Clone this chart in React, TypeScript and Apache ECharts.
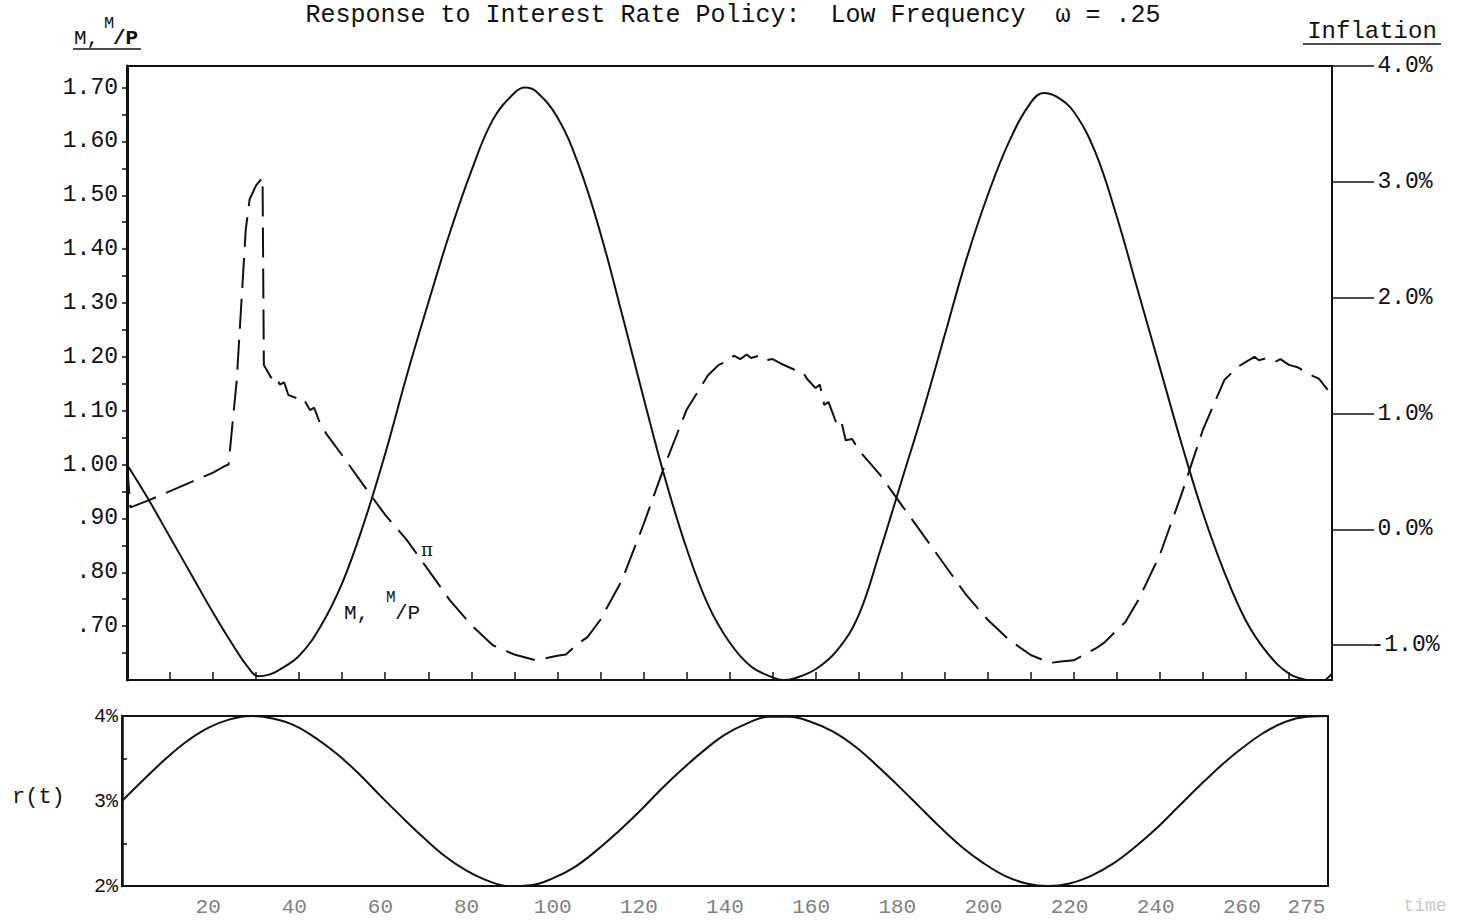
import React, { useEffect, useRef } from "react";
import * as echarts from "echarts";

// ---------- data ----------
const leftTicks = [0.7, 0.8, 0.9, 1.0, 1.1, 1.2, 1.3, 1.4, 1.5, 1.6, 1.7];
const leftMinor = [0.65, 0.7, 0.75, 0.8, 0.85, 0.9, 0.95, 1.0, 1.05, 1.1, 1.15, 1.2, 1.25, 1.3, 1.35, 1.4, 1.45, 1.5, 1.55, 1.6, 1.65, 1.7];
const inflationTicks = [-1, 0, 1, 2, 3, 4];
const rateTicks = [2, 3, 4];
const rateMinor = [2.5, 3.5];
const topXTicks = [10, 20, 30, 40, 50, 60, 70, 80, 90, 100, 110, 120, 130, 140, 150, 160, 170, 180, 190, 200, 210, 220, 230, 240, 250, 260, 270];
const timeLabels = [20, 40, 60, 80, 100, 120, 140, 160, 180, 200, 220, 240, 260, 275];

// M, M/P (left axis)
const mTime = [0, 5, 10, 15, 20, 25, 28, 30.5, 33, 35, 40, 45, 50, 55, 60, 65, 70, 75, 80, 85, 90, 92.5, 95, 100, 105, 110, 115, 120, 125, 130, 135, 140, 145, 150, 152.5, 155, 160, 165, 170, 175, 180, 185, 190, 195, 200, 205, 210, 213, 216, 220, 225, 230, 235, 240, 245, 250, 255, 260, 265, 270, 275, 277, 280];
const mValues = [1.0, 0.935, 0.865, 0.795, 0.725, 0.66, 0.625, 0.607, 0.61, 0.617, 0.645, 0.7, 0.78, 0.89, 1.02, 1.165, 1.3, 1.43, 1.545, 1.64, 1.69, 1.7, 1.693, 1.645, 1.555, 1.43, 1.28, 1.125, 0.975, 0.845, 0.74, 0.67, 0.625, 0.605, 0.6, 0.603, 0.62, 0.655, 0.72, 0.84, 0.97, 1.1, 1.24, 1.38, 1.5, 1.6, 1.672, 1.69, 1.683, 1.655, 1.58, 1.46, 1.32, 1.18, 1.04, 0.91, 0.8, 0.71, 0.65, 0.612, 0.598, 0.596, 0.612];

// inflation pi (right axis, %)
const piTime = [0, 0.8, 5, 10, 15, 20, 22.8, 23.6, 25.5, 27.6, 28.5, 30, 31.5, 31.8, 33.5, 34.5, 35.5, 36.5, 37.5, 39, 40, 41, 42.5, 43.5, 45, 46.5, 50, 55, 60, 65, 70, 75, 80, 85, 90, 95, 100, 102, 105, 107, 110, 115, 120, 125, 130, 135, 137.5, 140, 141, 142.5, 144, 145, 147, 148.5, 150, 152, 155, 157, 158, 160, 161, 162, 163, 165, 166, 167, 168.5, 170, 175, 180, 185, 190, 195, 200, 205, 210, 213, 215, 217, 220, 222, 225, 227, 230, 232, 235, 240, 245, 250, 255, 258, 260, 262, 263, 265, 267, 268, 270, 272, 275, 277, 279];
const piValues = [0.565, 0.19, 0.25, 0.33, 0.41, 0.49, 0.548, 0.56, 1.29, 2.59, 2.85, 2.97, 3.035, 1.42, 1.31, 1.33, 1.25, 1.27, 1.16, 1.14, 1.12, 1.13, 1.03, 1.05, 0.9, 0.816, 0.64, 0.38, 0.125, -0.09, -0.35, -0.61, -0.825, -1.0, -1.08, -1.13, -1.09, -1.08, -0.98, -0.93, -0.78, -0.44, 0.04, 0.557, 1.03, 1.33, 1.42, 1.46, 1.5, 1.47, 1.51, 1.48, 1.5, 1.46, 1.47, 1.43, 1.38, 1.36, 1.3, 1.22, 1.25, 1.075, 1.1, 0.9, 0.93, 0.77, 0.78, 0.686, 0.47, 0.21, -0.048, -0.307, -0.566, -0.78, -0.955, -1.084, -1.13, -1.15, -1.14, -1.13, -1.09, -1.03, -0.98, -0.87, -0.8, -0.61, -0.22, 0.3, 0.86, 1.29, 1.4, 1.446, 1.49, 1.46, 1.48, 1.45, 1.47, 1.42, 1.4, 1.334, 1.3, 1.204];

// r(t) (%)
const rTime = [0, 5, 10, 15, 20, 25, 30, 35, 40, 45, 50, 55, 60, 65, 70, 75, 80, 85, 90, 95, 100, 105, 110, 115, 120, 125, 130, 135, 140, 145, 150, 155, 160, 165, 170, 175, 180, 185, 190, 195, 200, 205, 210, 215, 220, 225, 230, 235, 240, 245, 250, 255, 260, 265, 270, 275, 280];
const rValues = [3.0, 3.25, 3.49, 3.7, 3.86, 3.96, 4.0, 3.97, 3.89, 3.74, 3.55, 3.32, 3.06, 2.81, 2.57, 2.35, 2.18, 2.06, 2.0, 2.01, 2.09, 2.22, 2.41, 2.63, 2.87, 3.13, 3.37, 3.59, 3.78, 3.91, 3.99, 3.99, 3.93, 3.82, 3.65, 3.43, 3.19, 2.94, 2.69, 2.46, 2.27, 2.12, 2.03, 2.0, 2.03, 2.12, 2.26, 2.45, 2.67, 2.92, 3.17, 3.41, 3.62, 3.8, 3.93, 3.99, 4.0];

// ---------- styling ----------
const MONO = "'Liberation Mono', 'DejaVu Sans Mono', monospace";
const INK = "#111";

const zip = (a: number[], b: number[]) => a.map((x, i) => [x, b[i]]);

function buildOption(): any {
  return {
    animation: false,
    backgroundColor: "#fff",
    grid: [
      { left: 127, right: 130, top: 66, height: 614, show: true, borderColor: INK, borderWidth: 2 },
      { left: 122, right: 134, top: 716, height: 170, show: true, borderColor: INK, borderWidth: 2 },
    ],
    xAxis: [
      {
        gridIndex: 0, type: "value", min: 0, max: 280, position: "bottom",
        axisLine: { show: true, onZero: false, lineStyle: { color: INK, width: 2 } },
        axisTick: { show: true, inside: true, length: 8, customValues: topXTicks, lineStyle: { color: INK, width: 1.5 } },
        axisLabel: { show: false },
        splitLine: { show: false },
      },
      {
        gridIndex: 1, type: "value", min: 0, max: 280, position: "bottom",
        axisLine: { show: true, onZero: false, lineStyle: { color: INK, width: 2 } },
        axisTick: { show: false },
        axisLabel: {
          show: true, customValues: timeLabels, margin: 11,
          color: "#808080", fontFamily: MONO, fontSize: 21,
        },
        splitLine: { show: false },
      },
    ],
    yAxis: [
      {
        gridIndex: 0, type: "value", min: 0.6, max: 1.74, position: "left",
        axisLine: { show: true, onZero: false, lineStyle: { color: INK, width: 3 } },
        axisTick: { show: true, inside: false, length: 5, customValues: leftMinor, lineStyle: { color: INK, width: 1.5 } },
        axisLabel: {
          show: true, customValues: leftTicks, margin: 9,
          color: INK, fontFamily: MONO, fontSize: 23,
          formatter: (v: number) => (v >= 1 ? v.toFixed(2) : v.toFixed(2).slice(1)),
        },
        splitLine: { show: false },
      },
      {
        gridIndex: 0, type: "value", min: -1.3, max: 4.0, position: "right",
        axisLine: { show: true, onZero: false, lineStyle: { color: INK, width: 2 } },
        axisTick: { show: true, inside: false, length: 42, customValues: inflationTicks, lineStyle: { color: INK, width: 1.5 } },
        axisLabel: {
          show: true, customValues: inflationTicks, margin: 73, align: "center",
          color: INK, fontFamily: MONO, fontSize: 23,
          formatter: (v: number) => v.toFixed(1) + "%",
        },
        splitLine: { show: false },
      },
      {
        gridIndex: 1, type: "value", min: 2, max: 4, position: "left",
        axisLine: { show: true, onZero: false, lineStyle: { color: INK, width: 2.5 } },
        axisTick: { show: true, inside: true, length: 5, customValues: rateMinor, lineStyle: { color: INK, width: 1.5 } },
        axisLabel: {
          show: true, customValues: rateTicks, margin: 4,
          color: INK, fontFamily: MONO, fontSize: 20,
          formatter: (v: number) => v + "%",
        },
        splitLine: { show: false },
      },
    ],
    series: [
      {
        name: "M, M/P", type: "line", xAxisIndex: 0, yAxisIndex: 0,
        data: zip(mTime, mValues), smooth: 0.4, showSymbol: false, symbol: "none",
        lineStyle: { color: INK, width: 2 }, clip: true,
      },
      {
        name: "pi", type: "line", xAxisIndex: 0, yAxisIndex: 1,
        data: zip(piTime, piValues), smooth: false, showSymbol: false, symbol: "none",
        lineStyle: { color: INK, width: 2, type: [30, 11] }, clip: true,
      },
      {
        name: "r(t)", type: "line", xAxisIndex: 1, yAxisIndex: 2,
        data: zip(rTime, rValues), smooth: 0.4, showSymbol: false, symbol: "none",
        lineStyle: { color: INK, width: 2 }, clip: true,
      },
    ],
    graphic: [
      { type: "text", x: 733, y: 15, style: { text: "Response to Interest Rate Policy:  Low Frequency  \u03c9 = .25", font: `25px ${MONO}`, fill: INK, align: "center", verticalAlign: "middle" } },
      // upper-left axis label M, M/P
      { type: "text", x: 74, y: 38, style: { text: "M,", font: `21px ${MONO}`, fill: INK, align: "left", verticalAlign: "middle" } },
      { type: "text", x: 104, y: 23, style: { text: "M", font: `17px ${MONO}`, fill: INK, align: "left", verticalAlign: "middle" } },
      { type: "text", x: 113, y: 38, style: { text: "/P", font: `bold 21px ${MONO}`, fill: INK, align: "left", verticalAlign: "middle" } },
      { type: "line", shape: { x1: 73, y1: 49, x2: 141, y2: 49 }, style: { stroke: INK, lineWidth: 1.5 } },
      // right axis label
      { type: "text", x: 1372, y: 31, style: { text: "Inflation", font: `24px ${MONO}`, fill: INK, align: "center", verticalAlign: "middle" } },
      { type: "line", shape: { x1: 1303, y1: 44, x2: 1441, y2: 44 }, style: { stroke: INK, lineWidth: 1.5 } },
      // in-plot labels
      { type: "text", x: 427, y: 549, style: { text: "\u03c0", font: `18px 'DejaVu Serif', serif`, fill: INK, align: "center", verticalAlign: "middle" } },
      { type: "text", x: 344, y: 613, style: { text: "M,", font: `21px ${MONO}`, fill: INK, align: "left", verticalAlign: "middle" } },
      { type: "text", x: 386, y: 598, style: { text: "M", font: `16px ${MONO}`, fill: INK, align: "left", verticalAlign: "middle" } },
      { type: "text", x: 395, y: 613, style: { text: "/P", font: `21px ${MONO}`, fill: INK, align: "left", verticalAlign: "middle" } },
      // bottom panel labels
      { type: "text", x: 12, y: 797, style: { text: "r(t)", font: `22px ${MONO}`, fill: INK, align: "left", verticalAlign: "middle" } },
      { type: "text", x: 1425, y: 906, style: { text: "time", font: `18px ${MONO}`, fill: "#c8c8c8", align: "center", verticalAlign: "middle" } },
    ],
  };
}

export default function App() {
  const ref = useRef<HTMLDivElement>(null);
  useEffect(() => {
    if (!ref.current) return;
    const chart = echarts.init(ref.current, null, { renderer: "svg" });
    chart.setOption(buildOption());
    return () => chart.dispose();
  }, []);
  return (
    <div
      ref={ref}
      style={{ position: "absolute", left: 0, top: 0, width: 1462, height: 920, background: "#fff" }}
    />
  );
}
